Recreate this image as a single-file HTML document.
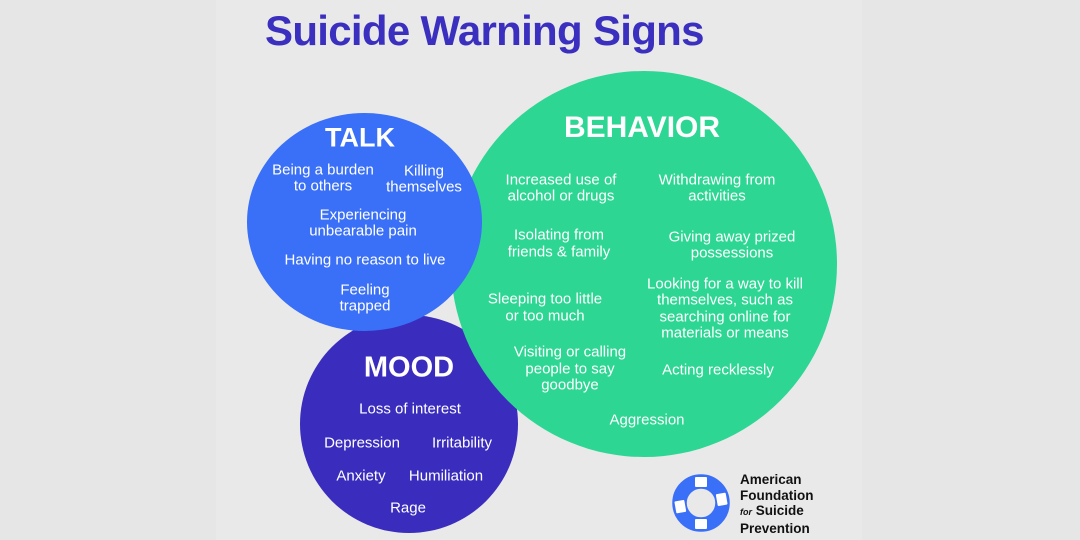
<!DOCTYPE html>
<html><head><meta charset="utf-8"><style>
html,body{margin:0;padding:0}
body{width:1080px;height:540px;background:#e6e6e6;position:relative;overflow:hidden;font-family:"Liberation Sans",sans-serif}
.panel{position:absolute;left:216px;top:0;width:646px;height:540px;background:#e9e9e9}
.c{position:absolute;border-radius:50%}
.t{position:absolute;color:#fff;font-size:15px;white-space:nowrap;transform:translate(-50%,-50%);line-height:1;margin-top:1px}
.h{font-weight:bold}
.title{position:absolute;left:265px;top:7px;font-size:42px;font-weight:bold;color:#3a2fbf;letter-spacing:-0.7px}
.logo{position:absolute;left:740px;top:472px;font-size:13.5px;font-weight:bold;color:#111;line-height:15.5px}
</style></head><body>
<div class="panel"></div>
<div class="title">Suicide Warning Signs</div>
<div class="c" style="left:300px;top:315px;width:218px;height:218px;background:#3a2dbd"></div>
<div class="c" style="left:451px;top:71px;width:386px;height:386px;background:#2dd692"></div>
<div class="c" style="left:247px;top:113px;width:235px;height:218px;background:#3a6ff7;border-radius:50%"></div>

<div class="t h" style="left:360px;top:137px;font-size:27px">TALK</div>
<div class="t" style="left:323px;top:169px">Being a burden</div>
<div class="t" style="left:323px;top:185px">to others</div>
<div class="t" style="left:424px;top:170px">Killing</div>
<div class="t" style="left:424px;top:186px">themselves</div>
<div class="t" style="left:363px;top:214px">Experiencing</div>
<div class="t" style="left:363px;top:230px">unbearable pain</div>
<div class="t" style="left:365px;top:259px">Having no reason to live</div>
<div class="t" style="left:365px;top:289px">Feeling</div>
<div class="t" style="left:365px;top:305px">trapped</div>

<div class="t h" style="left:642px;top:127px;font-size:30px">BEHAVIOR</div>
<div class="t" style="left:561px;top:179px">Increased use of</div>
<div class="t" style="left:561px;top:195px">alcohol or drugs</div>
<div class="t" style="left:717px;top:179px">Withdrawing from</div>
<div class="t" style="left:717px;top:195px">activities</div>
<div class="t" style="left:559px;top:234px">Isolating from</div>
<div class="t" style="left:559px;top:251px">friends &amp; family</div>
<div class="t" style="left:732px;top:236px">Giving away prized</div>
<div class="t" style="left:732px;top:252px">possessions</div>
<div class="t" style="left:725px;top:283px">Looking for a way to kill</div>
<div class="t" style="left:725px;top:299px">themselves, such as</div>
<div class="t" style="left:725px;top:316px">searching online for</div>
<div class="t" style="left:725px;top:332px">materials or means</div>
<div class="t" style="left:545px;top:298px">Sleeping too little</div>
<div class="t" style="left:545px;top:315px">or too much</div>
<div class="t" style="left:570px;top:351px">Visiting or calling</div>
<div class="t" style="left:570px;top:368px">people to say</div>
<div class="t" style="left:570px;top:384px">goodbye</div>
<div class="t" style="left:718px;top:369px">Acting recklessly</div>
<div class="t" style="left:647px;top:419px">Aggression</div>

<div class="t h" style="left:409px;top:367px;font-size:29px">MOOD</div>
<div class="t" style="left:410px;top:408px">Loss of interest</div>
<div class="t" style="left:362px;top:442px">Depression</div>
<div class="t" style="left:462px;top:442px">Irritability</div>
<div class="t" style="left:361px;top:475px">Anxiety</div>
<div class="t" style="left:446px;top:475px">Humiliation</div>
<div class="t" style="left:408px;top:507px">Rage</div>

<svg style="position:absolute;left:671px;top:473px" width="60" height="60" viewBox="0 0 60 60">
<circle cx="30" cy="30" r="21.5" fill="none" stroke="#3a6ff7" stroke-width="13"/>
<g fill="#fff">
<rect x="24" y="4" width="12" height="10" rx="1"/>
<rect x="24" y="4" width="12" height="10" rx="1" transform="rotate(80 30 30)"/>
<rect x="24" y="4" width="12" height="10" rx="1" transform="rotate(180 30 30)"/>
<rect x="24" y="4" width="12" height="10" rx="1" transform="rotate(260 30 30)"/>
</g>
<circle cx="30" cy="30" r="28" fill="none" stroke="#3a6ff7" stroke-width="1.5"/>
<circle cx="30" cy="30" r="15" fill="none" stroke="#3a6ff7" stroke-width="1.5"/>
</svg>
<div class="logo">American<br>Foundation<br><span style="font-size:9px;font-style:italic">for</span> Suicide<br>Prevention</div>
</body></html>
